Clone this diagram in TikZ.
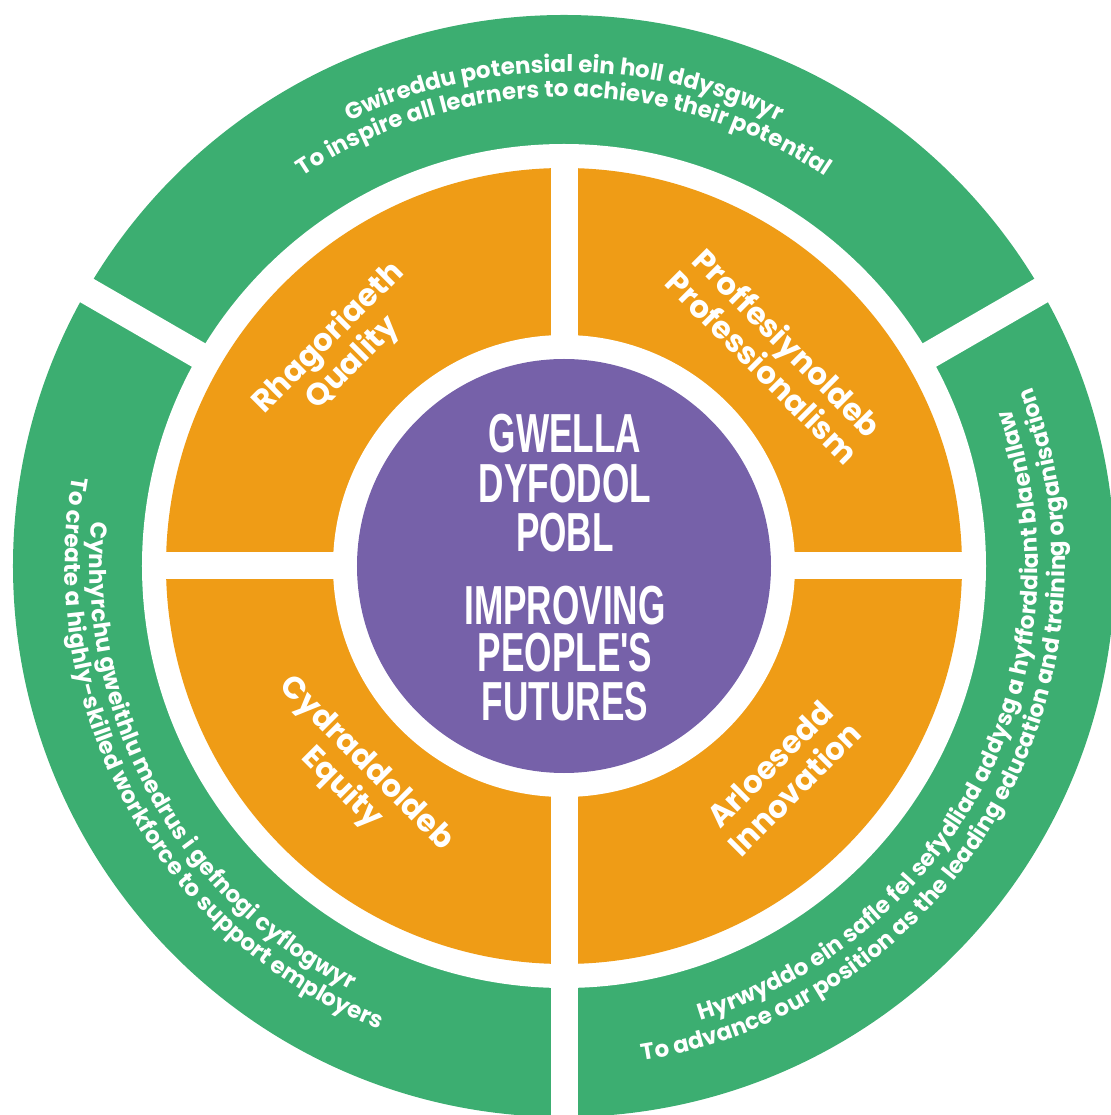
\documentclass[tikz,border=0pt]{standalone}
\usepackage{fontspec}
\usetikzlibrary{decorations.text}
\newfontfamily\ringfont{Poppins}
\newfontfamily\condfont{Liberation Sans}[FakeStretch=0.64]
\definecolor{ringgreen}{HTML}{3CAE71}
\definecolor{valorange}{HTML}{EF9C16}
\definecolor{corepurple}{HTML}{7661A9}
\newcommand{\ringstyle}{\ringfont\bfseries\fontsize{23}{27}\selectfont\color{white}}
\begin{document}
\begin{tikzpicture}[
  gap/.style={white, line width=27pt},
  ringtext/.style={decorate, decoration={text along path, text align=center, text={#1}}},
  valuelabel/.style={text=white, font=\ringfont\bfseries\fontsize{31}{35}\selectfont, align=center},
  coretext/.style={text=white, font=\condfont\bfseries\fontsize{55}{55}\selectfont, anchor=base, inner sep=0pt},
]
\useasboundingbox (-564pt,-549pt) rectangle (546pt,566pt);
% rings
\fill[ringgreen] (0,0) circle[radius=551pt];
\fill[white] (0,0) circle[radius=422pt];
\draw[gap] (0,0) -- (30:620pt);
\draw[gap] (0,0) -- (150:620pt);
\draw[gap] (0,0) -- (270:620pt);
\fill[valorange] (0,0) circle[radius=398pt];
\draw[gap] (-410pt,0) -- (410pt,0);
\draw[gap] (0,-410pt) -- (0,410pt);
\fill[white] (0,0) circle[radius=231pt];
\fill[corepurple] (0,0) circle[radius=207pt];
% outer ring texts
\path[ringtext={|\ringstyle|Gwireddu potensial ein holl ddysgwyr}]
  (148:494pt) arc[start angle=148, end angle=32, radius=494pt];
\path[ringtext={|\ringstyle|To inspire all learners to achieve their potential}]
  (148:469pt) arc[start angle=148, end angle=32, radius=469pt];
\path[ringtext={|\ringstyle|Cynhyrchu gweithlu medrus i gefnogi cyflogwyr}]
  (151:474pt) arc[start angle=151, end angle=267, radius=474pt];
\path[ringtext={|\ringstyle|To create a highly-skilled workforce to support employers}]
  (151:499pt) arc[start angle=151, end angle=267, radius=499pt];
\path[ringtext={|\ringstyle|Hyrwyddo ein safle fel sefydliad addysg a hyfforddiant blaenllaw}]
  (-85:474pt) arc[start angle=-85, end angle=31, radius=474pt];
\path[ringtext={|\ringstyle|To advance our position as the leading education and training organisation}]
  (-88:501pt) arc[start angle=-88, end angle=28, radius=501pt];
% value labels
\node[valuelabel, rotate=45] (quality) at (136:310pt) {Rhagoriaeth\\Quality};
\node[valuelabel, rotate=-45] (prof) at (45:299pt) {Proffesiynoldeb\\Professionalism};
\node[valuelabel, rotate=45] (innov) at (-44:303pt) {Arloesedd\\Innovation};
\node[valuelabel, rotate=-45] (equity) at (225:298pt) {Cydraddoldeb\\Equity};
% core text
\node[coretext] (c1) at (1pt,113pt) {GWELLA};
\node[coretext] (c2) at (1pt,63pt) {DYFODOL};
\node[coretext] (c3) at (1pt,14pt) {POBL};
\node[coretext] (c4) at (1pt,-59pt) {IMPROVING};
\node[coretext] (c5) at (1pt,-106pt) {PEOPLE'S};
\node[coretext] (c6) at (1pt,-154pt) {FUTURES};
\end{tikzpicture}
\end{document}
